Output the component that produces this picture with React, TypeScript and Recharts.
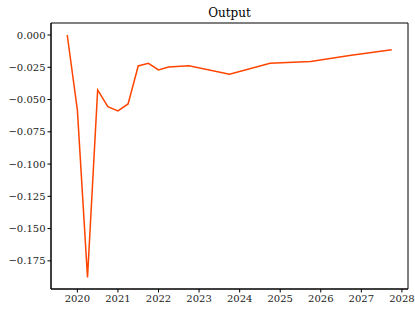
import React from "react";
import { LineChart, Line, XAxis, YAxis, ReferenceArea } from "recharts";

const dates = [
  2019.75, 2020.0, 2020.25, 2020.5, 2020.75, 2021.0, 2021.25, 2021.5, 2021.75,
  2022.0, 2022.25, 2022.75, 2023.75, 2024.75, 2025.75, 2026.75, 2027.75,
];
const outputValues = [
  0.0, -0.058, -0.1878, -0.0426, -0.0555, -0.0588, -0.0534, -0.024, -0.0219,
  -0.0271, -0.0248, -0.0238, -0.0304, -0.0219, -0.0206, -0.0157, -0.0114,
];
const xTicks = [2020, 2021, 2022, 2023, 2024, 2025, 2026, 2027, 2028];
const yTicks = [0, -0.025, -0.05, -0.075, -0.1, -0.125, -0.15, -0.175];
const xDomain: [number, number] = [2019.35, 2028.15];
const yDomain: [number, number] = [-0.1968, 0.0093];

const data = dates.map((d, i) => ({ date: d, value: outputValues[i] }));

const font = "'DejaVu Serif', serif";
const fmtY = (v: number) => (v < 0 ? "\u2212" : "") + Math.abs(v).toFixed(3);

export default function App() {
  return (
    <div style={{ position: "absolute", left: 0, top: 0, width: 415, height: 312, background: "#fff" }}>
      <div
        style={{
          position: "absolute",
          left: 51,
          width: 357,
          top: 6,
          textAlign: "center",
          fontFamily: font,
          fontSize: 12,
          color: "#000",
        }}
      >
        Output
      </div>
      <LineChart
        width={415}
        height={312}
        data={data}
        margin={{ top: 23, right: 7, bottom: 0, left: 0 }}
      >
        <XAxis
          dataKey="date"
          type="number"
          domain={xDomain}
          allowDataOverflow
          ticks={xTicks}
          height={23}
          tickSize={3.5}
          tickMargin={2}
          stroke="#000"
          tick={{ fill: "#222", fontSize: 10, fontFamily: font }}
          interval={0}
        />
        <YAxis
          type="number"
          domain={yDomain}
          allowDataOverflow
          ticks={yTicks}
          width={51}
          tickSize={3.5}
          tickMargin={2}
          tickFormatter={fmtY}
          stroke="#000"
          tick={{ fill: "#222", fontSize: 10, fontFamily: font }}
          interval={0}
        />
        <ReferenceArea
          x1={xDomain[0]}
          x2={xDomain[1]}
          y1={yDomain[0]}
          y2={yDomain[1]}
          fill="none"
          stroke="#000"
          strokeWidth={1}
          ifOverflow="visible"
        />
        <Line
          type="linear"
          dataKey="value"
          stroke="#ff4500"
          strokeWidth={1.5}
          dot={false}
          isAnimationActive={false}
        />
      </LineChart>
    </div>
  );
}
